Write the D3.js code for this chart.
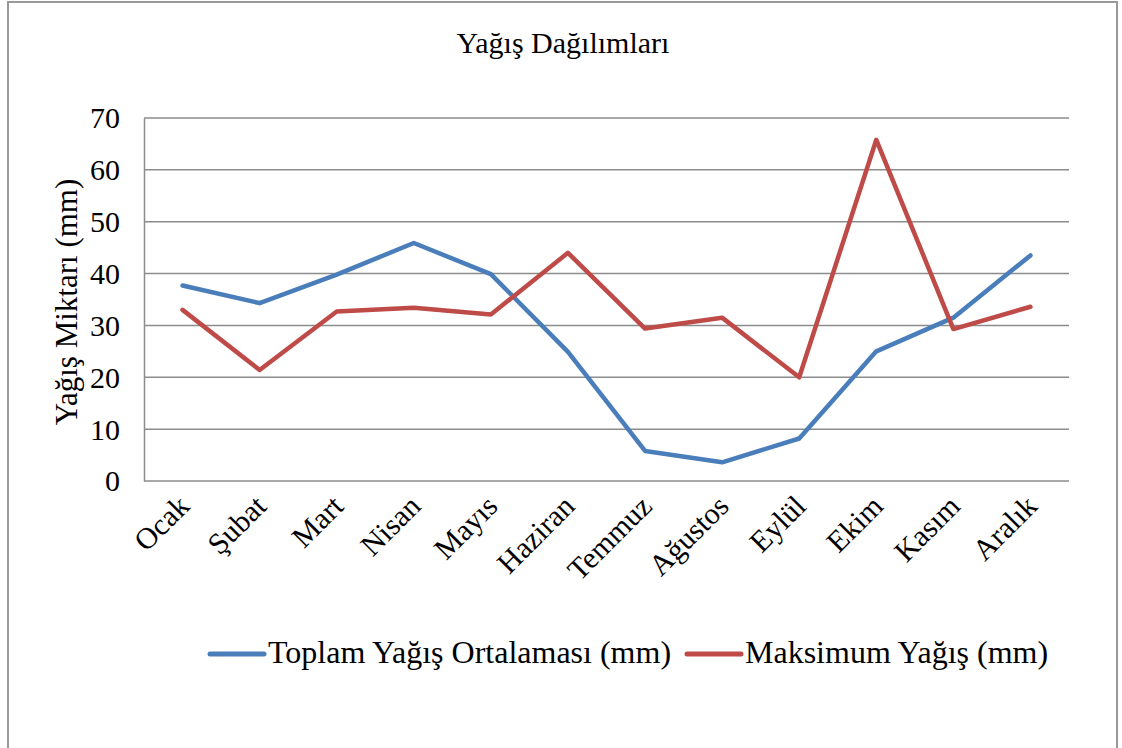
<!DOCTYPE html>
<html>
<head>
<meta charset="utf-8">
<script src="https://cdn.jsdelivr.net/npm/d3@7"></script>
<style>
  body { margin: 0; background: #fff; }
  svg, svg text { font-family: "Liberation Serif", "DejaVu Serif", serif !important; fill: #000; }
</style>
</head>
<body>
<div id="chart"></div>
<script>
const months = ["Ocak", "Şubat", "Mart", "Nisan", "Mayıs", "Haziran", "Temmuz", "Ağustos", "Eylül", "Ekim", "Kasım", "Aralık"];
const ortalama = [37.7, 34.3, 39.8, 45.9, 39.9, 24.9, 5.8, 3.6, 8.2, 25.0, 31.5, 43.5];
const maksimum = [33.0, 21.4, 32.7, 33.4, 32.1, 44.0, 29.4, 31.5, 20.0, 65.8, 29.3, 33.6];
const yTicks = [0, 10, 20, 30, 40, 50, 60, 70];
const seriesNames = ["Toplam Yağış Ortalaması (mm)", "Maksimum Yağış (mm)"];
const colors = ["#4a7ebb", "#be4b48"];

const width = 1122;
const height = 748;
const plot = {left: 144, right: 1069, top: 118, bottom: 481};
const serif = "'Liberation Serif', 'DejaVu Serif', serif";

const svg = d3.select("#chart")
    .append("svg")
    .attr("width", width)
    .attr("height", height);

// chart frame
svg.append("rect")
    .attr("x", 8)
    .attr("y", 2)
    .attr("width", 1109)
    .attr("height", 760)
    .attr("fill", "none")
    .attr("stroke", "#999")
    .attr("stroke-width", 2);

svg.append("text")
    .attr("x", 563)
    .attr("y", 53)
    .attr("text-anchor", "middle")
    .attr("font-family", serif)
    .style("font-size", "30px")
    .text("Yağış Dağılımları");

const x = d3.scalePoint()
    .domain(months)
    .range([plot.left, plot.right])
    .padding(0.5);

const y = d3.scaleLinear()
    .domain([0, 70])
    .range([plot.bottom, plot.top]);

// gridlines
svg.append("g")
    .selectAll("line")
    .data(yTicks)
    .enter()
    .append("line")
    .attr("x1", plot.left)
    .attr("x2", plot.right)
    .attr("y1", d => y(d))
    .attr("y2", d => y(d))
    .attr("stroke", "#8c8c8c")
    .attr("stroke-width", 1.5);

// y axis
const yAxis = svg.append("g")
    .attr("transform", "translate(" + plot.left + ",0)")
    .call(d3.axisLeft(y).tickValues(yTicks).tickSize(0).tickPadding(24));
yAxis.attr("font-family", serif);
yAxis.select(".domain").attr("stroke", "#8c8c8c").attr("stroke-width", 1.5);
yAxis.selectAll("text").style("font-size", "30px").attr("dy", "0.33em");

// x axis
const xAxis = svg.append("g")
    .attr("transform", "translate(0," + plot.bottom + ")")
    .call(d3.axisBottom(x).tickSize(0).tickPadding(0));
xAxis.attr("font-family", serif);
xAxis.select(".domain").remove();
xAxis.selectAll("text")
    .style("font-size", "30px")
    .attr("text-anchor", "end")
    .attr("dy", null)
    .attr("y", 0)
    .attr("transform", "translate(8,27) rotate(-45)");

svg.append("text")
    .attr("transform", "translate(77,302) rotate(-90)")
    .attr("text-anchor", "middle")
    .attr("font-family", serif)
    .style("font-size", "31px")
    .text("Yağış Miktarı (mm)");

const line = d3.line()
    .x((d, i) => x(months[i]))
    .y(d => y(d));

[ortalama, maksimum].forEach(function (s, i) {
    svg.append("path")
        .datum(s)
        .attr("d", line)
        .attr("fill", "none")
        .attr("stroke", colors[i])
        .attr("stroke-width", 4.5)
        .attr("stroke-linejoin", "round")
        .attr("stroke-linecap", "round");
});

// legend
const legendX = [210, 687];
const legend = svg.append("g")
    .selectAll("g")
    .data(seriesNames)
    .enter()
    .append("g")
    .attr("transform", (d, i) => "translate(" + legendX[i] + ",654)");
legend.append("line")
    .attr("x1", 0)
    .attr("x2", 54)
    .attr("stroke", (d, i) => colors[i])
    .attr("stroke-width", 5)
    .attr("stroke-linecap", "round");
legend.append("text")
    .attr("x", 58)
    .attr("y", 9)
    .attr("font-family", serif)
    .style("font-size", "32px")
    .text(d => d);
</script>
</body>
</html>
